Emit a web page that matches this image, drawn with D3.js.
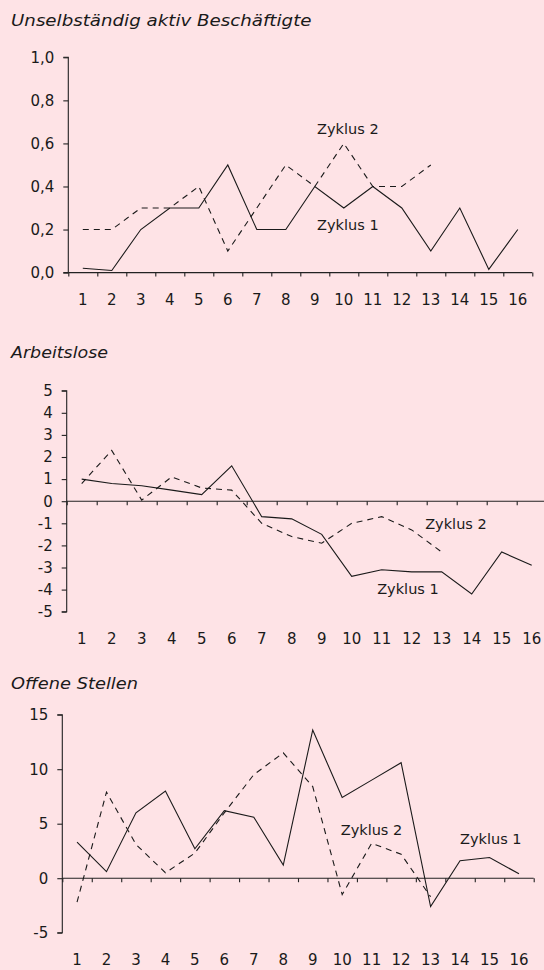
<!DOCTYPE html>
<html>
<head>
<meta charset="utf-8">
<script src="https://cdn.jsdelivr.net/npm/d3@7/dist/d3.min.js"></script>
<style>
  html, body { margin: 0; padding: 0; background: #fee3e6; }
  svg { display: block; }
  text { font-family: "DejaVu Sans", sans-serif; fill: #1a1a1a; }
</style>
</head>
<body>
<svg id="chart" width="544" height="970"></svg>
<script>
// ---- data ----
const periods = d3.range(1, 17);

const titles = ["Unselbständig aktiv Beschäftigte", "Arbeitslose", "Offene Stellen"];
const seriesNames = ["Zyklus 1", "Zyklus 2"];

const besch_z1 = [0.02, 0.01, 0.2, 0.3, 0.3, 0.5, 0.2, 0.2, 0.4, 0.3, 0.4, 0.3, 0.1, 0.3, 0.015, 0.2];
const besch_z2 = [0.2, 0.2, 0.3, 0.3, 0.4, 0.1, 0.3, 0.5, 0.4, 0.6, 0.4, 0.4, 0.5];

const alo_z1 = [1.0, 0.8, 0.7, 0.5, 0.3, 1.6, -0.7, -0.8, -1.5, -3.4, -3.1, -3.2, -3.2, -4.2, -2.3, -2.9];
const alo_z2 = [0.8, 2.3, 0.05, 1.1, 0.6, 0.5, -1.0, -1.6, -1.9, -1.0, -0.7, -1.3, -2.3];

const os_z1 = [3.3, 0.6, 6.0, 8.0, 2.7, 6.2, 5.6, 1.2, 13.6, 7.4, 9.0, 10.6, -2.6, 1.6, 1.9, 0.4];
const os_z2 = [-2.2, 7.9, 3.1, 0.5, 2.3, 6.0, 9.5, 11.5, 8.4, -1.5, 3.2, 2.2, -1.7];

const besch_ticks = [0, 0.2, 0.4, 0.6, 0.8, 1.0];
const alo_ticks = [-5, -4, -3, -2, -1, 0, 1, 2, 3, 4, 5];
const os_ticks = [-5, 0, 5, 10, 15];

// label anchor positions in data units [period, value]
const besch_lbl = { z1: [9.08, 0.196], z2: [9.08, 0.646] };
const alo_lbl = { z1: [10.85, -4.22], z2: [12.45, -1.24] };
const os_lbl = { z1: [14.0, 3.1], z2: [9.95, 4.0] };

// ---- layout ----
const panels = [
  { title: titles[0], titleY: 25.7, z1: besch_z1, z2: besch_z2, ticks: besch_ticks,
    dom: [0, 1], x0: 68.3, x1: 532.3, yBot: 272.6, yTop: 57.3, labY: 305,
    fmt: d => d3.format(".1f")(d).replace(".", ","), lbl: besch_lbl },
  { title: titles[1], titleY: 357.7, z1: alo_z1, z2: alo_z2, ticks: alo_ticks,
    dom: [-5, 5], x0: 66.7, x1: 546.7, yBot: 611.7, yTop: 390.7, labY: 644,
    fmt: d => String(d), lbl: alo_lbl },
  { title: titles[2], titleY: 689, z1: os_z1, z2: os_z2, ticks: os_ticks,
    dom: [-5, 15], x0: 62.3, x1: 533.7, yBot: 932.7, yTop: 714.7, labY: 965,
    fmt: d => String(d), lbl: os_lbl }
];

const svg = d3.select("#chart");
svg.append("rect").attr("width", 544).attr("height", 970).attr("fill", "#fee3e6");

const titleWidths = [300.5, 97, 127];

panels.forEach((p, pi) => {
  const g = svg.append("g");
  const x = d3.scaleLinear().domain([0.5, 16.5]).range([p.x0, p.x1]);
  const y = d3.scaleLinear().domain(p.dom).range([p.yBot, p.yTop]);

  // title
  g.append("text")
    .attr("x", 11).attr("y", p.titleY)
    .attr("font-size", 16.5).attr("font-style", "italic")
    .attr("textLength", titleWidths[pi]).attr("lengthAdjust", "spacingAndGlyphs")
    .text(p.title);

  // y axis
  const yAxis = d3.axisLeft(y).tickValues(p.ticks).tickFormat(p.fmt)
    .tickSize(5).tickPadding(9);
  const ya = g.append("g").attr("transform", `translate(${p.x0},0)`).call(yAxis);
  ya.select(".domain").attr("stroke", "#222").attr("stroke-width", 1.1)
    .attr("d", `M-5,${p.yTop}H0V${p.yBot}H-5`);
  ya.selectAll(".tick line").attr("stroke", "#222").attr("stroke-width", 1.1);
  ya.selectAll(".tick text").attr("font-size", 15).attr("fill", "#1a1a1a")
    .attr("font-family", "DejaVu Sans, sans-serif");

  // x axis at zero, tick marks on period boundaries
  const bounds = d3.range(0.5, 17, 1).filter(b => x(b) <= 544);
  const xAxis = d3.axisBottom(x).tickValues(bounds).tickFormat("").tickSize(4).tickSizeOuter(0);
  const xa = g.append("g").attr("transform", `translate(0,${y(0)})`).call(xAxis);
  xa.select(".domain").attr("stroke", "#222").attr("stroke-width", 1.1)
    .attr("d", `M${p.x0},0H${Math.min(p.x1, 544)}`);
  xa.selectAll(".tick line").attr("stroke", "#222").attr("stroke-width", 1.1);

  // period labels
  g.selectAll("text.per").data(periods).enter().append("text")
    .attr("class", "per")
    .attr("x", d => x(d)).attr("y", p.labY)
    .attr("text-anchor", "middle").attr("font-size", 15)
    .text(d => d);

  const line = d3.line().x((d, i) => x(i + 1)).y(d => y(d));

  g.append("path").datum(p.z2).attr("d", line)
    .attr("fill", "none").attr("stroke", "#1a1a1a").attr("stroke-width", 1.1)
    .attr("stroke-dasharray", "6,5");
  g.append("path").datum(p.z1).attr("d", line)
    .attr("fill", "none").attr("stroke", "#1a1a1a").attr("stroke-width", 1.1);

  [["z1", seriesNames[0]], ["z2", seriesNames[1]]].forEach(([k, name]) => {
    g.append("text")
      .attr("x", x(p.lbl[k][0])).attr("y", y(p.lbl[k][1]))
      .attr("font-size", 14.5)
      .text(name);
  });
});
</script>
</body>
</html>
